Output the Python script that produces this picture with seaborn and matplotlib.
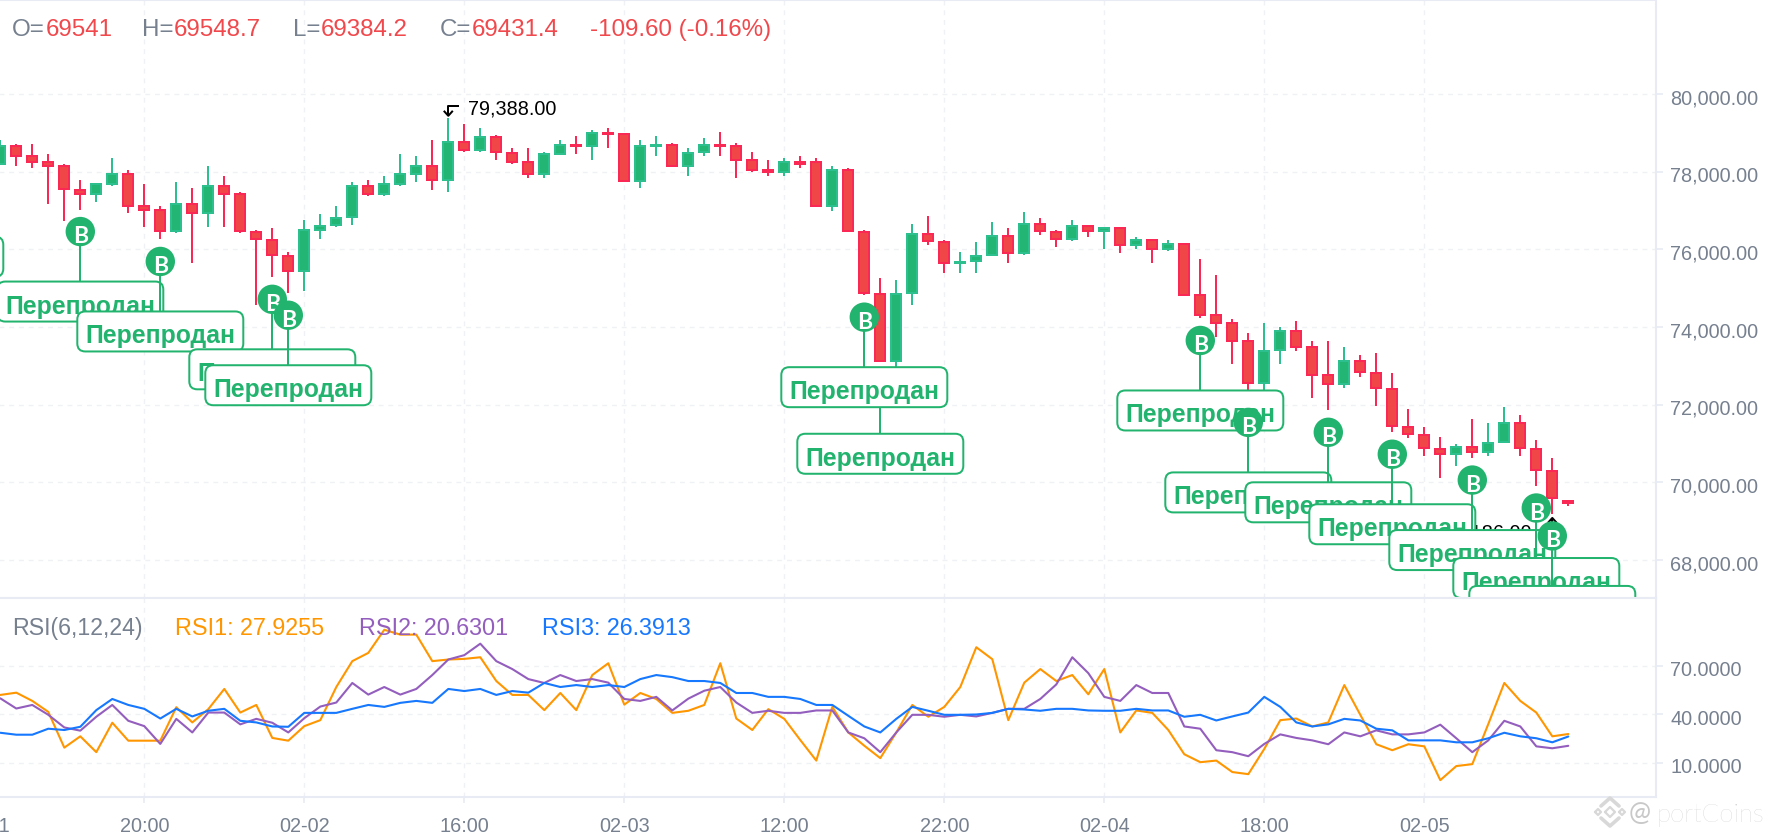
import numpy as np
import pandas as pd
import matplotlib
matplotlib.use('Agg')
import matplotlib.pyplot as plt
import seaborn as sns
from matplotlib.lines import Line2D
from matplotlib.patches import Circle, FancyBboxPatch
from matplotlib.transforms import IdentityTransform, ScaledTranslation

# ── data ──────────────────────────────────────────────────────────────────────
opens = [78180, 78675, 78420, 78265, 78160, 77545, 77410, 77660, 77955, 77135,
         77035, 76435, 77190, 76900, 77650, 77445, 76470, 76265, 75855, 75410,
         76485, 76590, 76795, 77650, 77410, 77660, 77925, 78160, 77770, 78780,
         78540, 78930, 78520, 78265, 77925, 78435, 78725, 78640, 79035, 78985,
         77725, 78640, 78725, 78130, 78485, 78725, 78675, 78315, 78060, 77975,
         78265, 78265, 77100, 78060, 76470, 74880, 73105, 74845, 76420, 76215,
         75615, 75665, 75820, 76370, 75870, 76675, 76470, 76230, 76625, 76435,
         76570, 76075, 76265, 75975, 76170, 74840, 74325, 74120, 73660, 72545,
         73370, 73915, 73505, 72785, 72495, 73145, 72840, 72425, 71455, 71250,
         70890, 70700, 70940, 70750, 71010, 71555, 70890, 70325, 69541]
closes = [78675, 78385, 78230, 78130, 77520, 77410, 77700, 77955, 77100, 77000,
          76445, 77190, 76900, 77650, 77410, 76435, 76230, 75820, 75410, 76520,
          76625, 76830, 77650, 77410, 77700, 77955, 78160, 77770, 78780, 78540,
          78930, 78485, 78230, 77925, 78470, 78725, 78640, 79035, 78950, 77725,
          78675, 78725, 78130, 78520, 78725, 78640, 78280, 78025, 77975, 78265,
          78180, 77100, 78060, 76435, 74845, 73105, 74880, 76420, 76180, 75615,
          75700, 75855, 76370, 75870, 76675, 76435, 76230, 76625, 76435, 76570,
          76075, 76265, 75975, 76160, 74805, 74290, 74085, 73625, 72545, 73400,
          73915, 73470, 72750, 72495, 73145, 72805, 72395, 71420, 71215, 70855,
          70700, 70940, 70750, 71045, 71555, 70855, 70290, 69575, 69431.4]
highs = [78810, 78710, 78710, 78455, 78190, 77785, 77700, 78340, 78035, 77685,
         77110, 77735, 77580, 78145, 77890, 77480, 76495, 76555, 75930, 76755,
         76905, 77110, 77725, 77785, 77890, 78455, 78400, 78810, 79388, 79220,
         79120, 78950, 78605, 78605, 78505, 78810, 78915, 79070, 79120, 78985,
         78810, 78915, 78750, 78600, 78865, 79015, 78750, 78505, 78300, 78350,
         78400, 78350, 78145, 78085, 76495, 75275, 75220, 76660, 76865, 76240,
         75940, 76195, 76710, 76555, 76965, 76810, 76505, 76760, 76625, 76570,
         76570, 76310, 76265, 76245, 76170, 75745, 75335, 74205, 73840, 74105,
         73990, 74155, 73640, 73640, 73490, 73280, 73335, 72820, 71895, 71435,
         71180, 70975, 71640, 71540, 71950, 71745, 71080, 70615, 69548.7]
lows = [78180, 78155, 78100, 77180, 76720, 77025, 77230, 77640, 76925, 76565,
        76255, 76410, 75640, 76565, 76565, 76410, 74565, 75280, 74870, 74925,
        76255, 76565, 76615, 77385, 77385, 77640, 77745, 77540, 77490, 78515,
        78515, 78310, 78205, 77845, 77845, 78425, 78460, 78310, 78615, 77725,
        77590, 78410, 78130, 77895, 78410, 78410, 77845, 78000, 77895, 77895,
        78100, 77100, 76975, 76435, 74820, 73105, 72975, 74565, 76100, 75385,
        75385, 75385, 75820, 75640, 75845, 76360, 76050, 76205, 76310, 76000,
        75900, 76000, 75640, 75950, 74805, 74220, 73750, 73035, 72110, 72365,
        73035, 73395, 72160, 71855, 72420, 72725, 71955, 71290, 71135, 70675,
        70110, 70420, 70625, 70675, 71010, 70675, 69905, 69186, 69384.2]

rsi1 = [52.1, 53.5, 48.4, 41.6, 19.5, 26.5, 16.7, 34.9, 23.8, 23.8, 23.8, 44.5,
        35.1, 43.3, 55.8, 41.2, 45.9, 25.5, 23.8, 32.8, 36.5, 57.0, 73.0, 78.1,
        92.4, 89.4, 89.4, 73.0, 74.0, 74.4, 75.4, 60.7, 52.1, 52.1, 42.7, 53.3,
        42.7, 64.4, 71.7, 46.1, 53.3, 49.6, 41.0, 42.3, 45.9, 71.7, 37.5, 30.4,
        43.3, 37.3, 24.2, 11.5, 44.7, 28.9, 20.7, 13.0, 28.9, 45.9, 38.6, 44.7,
        57.0, 81.6, 74.2, 36.5, 59.7, 68.1, 60.7, 64.4, 52.5, 68.1, 28.9, 42.5,
        41.0, 30.4, 15.4, 10.5, 11.5, 4.4, 3.1, 18.7, 36.5, 37.5, 32.6, 35.1,
        58.2, 39.8, 21.6, 17.9, 21.6, 20.3, -0.6, 8.1, 9.3, 34.1, 59.5, 48.4,
        41.2, 26.5, 27.9255]
rsi2 = [50.0, 43.7, 45.9, 39.8, 32.0, 30.0, 38.6, 45.9, 36.1, 32.8, 21.8, 37.3,
        28.9, 41.2, 41.2, 33.9, 37.3, 34.9, 28.9, 37.7, 44.9, 47.4, 59.5, 52.3,
        57.0, 52.3, 55.8, 64.4, 74.0, 76.7, 83.8, 73.0, 68.1, 61.9, 59.5, 64.4,
        60.7, 61.9, 59.7, 49.6, 48.4, 50.9, 42.5, 49.8, 54.7, 57.0, 47.4, 41.0,
        42.3, 41.0, 41.0, 42.5, 42.5, 28.9, 25.3, 16.7, 28.9, 39.8, 39.8, 38.6,
        39.8, 38.8, 41.0, 43.5, 43.5, 49.6, 58.6, 75.4, 65.6, 50.9, 48.4, 58.2,
        53.3, 53.3, 32.6, 31.2, 17.9, 16.7, 14.2, 21.8, 27.7, 25.5, 24.0, 21.6,
        28.9, 26.5, 30.2, 27.7, 27.7, 28.9, 33.7, 25.3, 16.7, 24.0, 36.1, 32.6,
        20.3, 19.1, 20.6301]
rsi3 = [28.7, 27.5, 27.5, 31.2, 30.4, 32.4, 42.7, 49.6, 45.9, 43.5, 37.5, 43.5,
        38.8, 42.3, 43.5, 36.1, 35.1, 32.6, 32.4, 41.0, 41.0, 41.0, 43.5, 45.9,
        44.7, 47.2, 48.4, 47.2, 55.8, 54.5, 55.8, 52.1, 54.5, 53.5, 59.5, 57.0,
        58.2, 57.0, 58.2, 57.0, 61.9, 64.4, 63.1, 60.7, 60.7, 59.5, 53.3, 53.3,
        50.9, 50.9, 49.6, 45.9, 45.9, 39.2, 32.6, 28.9, 37.3, 44.7, 42.3, 39.8,
        39.8, 40.0, 41.0, 43.5, 43.1, 42.3, 43.5, 43.5, 42.5, 42.3, 42.3, 43.5,
        42.5, 42.5, 38.6, 39.8, 36.3, 38.8, 41.2, 50.9, 44.7, 35.1, 32.6, 33.9,
        37.3, 36.3, 31.2, 30.2, 24.0, 24.0, 24.0, 22.8, 22.8, 25.3, 28.7, 26.5,
        25.3, 22.8, 26.3913]

# candles with a "Перепродан" signal, in drawing order (the first starts off screen)
signal_idx = [-5, 5, 10, 17, 18, 55, 54, 75, 78, 83, 87, 92, 96, 97]
signal_low = [78180, 77025, 76255, 75280, 74870, 73105, 74820, 74220, 72110,
              71855, 71290, 70625, 69905, 69186]

tick_pos = [-1, 9, 19, 29, 39, 49, 59, 69, 79, 89]
tick_txt = ['02-01', '20:00', '02-02', '16:00', '02-03', '12:00', '22:00', '02-04', '18:00', '02-05']
price_ticks = [68000, 70000, 72000, 74000, 76000, 78000, 80000]
rsi_ticks = [10, 40, 70]

df = pd.DataFrame({'idx': np.arange(len(opens)), 'open': opens, 'close': closes,
                   'high': highs, 'low': lows, 'rsi1': rsi1, 'rsi2': rsi2, 'rsi3': rsi3})

# ── style ─────────────────────────────────────────────────────────────────────
sns.set_theme(style='white')
plt.rcParams['font.family'] = ['Liberation Sans', 'DejaVu Sans']

UP, UP_FILL = '#2DC08E', '#22B573'
DOWN, DOWN_FILL = '#F92855', '#F04648'
SIGNAL = '#22B46E'
GREY = '#76808F'
LINE = '#E8EBF3'
GRID = '#EFF1F4'

W, H = 1774, 838
fig = plt.figure(figsize=(W / 100, H / 100), dpi=100, facecolor='white')

# panes run a little off the left edge so the cut-off 02-01 label still draws
X0, X1 = -18, 1656.5
main_top, main_bot = 0, 598
sub_bot = 797
ax = fig.add_axes([X0 / W, 1 - main_bot / H, (X1 - X0) / W, (main_bot - main_top) / H])
ax2 = fig.add_axes([X0 / W, 1 - sub_bot / H, (X1 - X0) / W, (sub_bot - main_bot) / H], sharex=ax)

ax.set_xlim((X0 - 0.3) / 16, (X1 - 0.3) / 16)
ax.set_ylim(67021, 82422)
ax2.set_ylim(-11.03, 112.05)

for a in (ax, ax2):
    a.set_axisbelow(True)
    a.grid(True, color=GRID, linewidth=1.0, linestyle=(0, (3.5, 3.5)))
    a.set_xticks(tick_pos)
    for side in ('left', 'top', 'bottom', 'right'):
        a.spines[side].set_color(LINE)
        a.spines[side].set_linewidth(1.5)
    a.spines['left'].set_visible(False)
    a.yaxis.tick_right()
    a.tick_params(axis='y', right=True, left=False, length=5, width=1.2, color=LINE,
                  labelsize=14.3, labelcolor=GREY, pad=5)

ax.set_yticks(price_ticks)
ax.set_yticklabels([f'{t:,.2f}' for t in price_ticks])
ax.tick_params(axis='x', bottom=False, labelbottom=False)
ax2.set_yticks(rsi_ticks)
ax2.set_yticklabels([f'{t:.4f}' for t in rsi_ticks])
ax2.set_xticklabels(tick_txt)
ax2.tick_params(axis='x', bottom=True, length=4.5, width=1.2, color=LINE,
                labelsize=14.3, labelcolor=GREY, pad=9.7)

down_shift = ScaledTranslation(0, -2 / 72, fig.dpi_scale_trans)
for lab in ax.get_yticklabels() + ax2.get_yticklabels():
    lab.set_transform(lab.get_transform() + down_shift)

# ── candles ───────────────────────────────────────────────────────────────────
is_up = df['close'] >= df['open']
wick_col = [UP if u else DOWN for u in is_up]
fill_col = [UP_FILL if u else DOWN_FILL for u in is_up]
ax.vlines(df['idx'], df['low'], df['high'], colors=wick_col, linewidth=1.44, zorder=2)

# body outline is 2px, keep the outer edge on the open/close values
price_per_px = (ax.get_ylim()[1] - ax.get_ylim()[0]) / (main_bot - main_top)
body_lo = df[['open', 'close']].min(axis=1) + price_per_px
body_hi = df[['open', 'close']].max(axis=1) - price_per_px
ax.bar(df['idx'], body_hi - body_lo, bottom=body_lo, width=10 / 16, color=fill_col,
       edgecolor=wick_col, linewidth=1.44, zorder=3)


def to_px(i, price):
    return ax.transData.transform((i, price))


def px_line(xs, ys, color='black', lw=1.44, z=5):
    ax.add_line(Line2D(xs, ys, color=color, linewidth=lw, transform=IdentityTransform(),
                       zorder=z, solid_capstyle='butt'))


# high / low markers
hi_i = int(df['high'].idxmax())
lo_i = int(df['low'].idxmin())
hx, hy = to_px(hi_i, df['high'][hi_i])
px_line([hx + 11, hx, hx], [hy + 12, hy + 12, hy + 2])
px_line([hx - 4.5, hx, hx + 4.5], [hy + 7, hy + 2, hy + 7])
ax.text(hx + 20, hy + 9, f"{df['high'][hi_i]:,.2f}", transform=IdentityTransform(),
        color='black', fontsize=14.3, ha='left', va='center', zorder=5)
lx, ly = to_px(lo_i, df['low'][lo_i])
px_line([lx - 11, lx, lx], [ly - 14, ly - 14, ly - 4])
px_line([lx - 4.5, lx, lx + 4.5], [ly - 9, ly - 4, ly - 9])
ax.text(lx - 21, ly - 19, f"{df['low'][lo_i]:,.2f}", transform=IdentityTransform(),
        color='black', fontsize=14.3, ha='right', va='center', zorder=5)

# ── buy signals ───────────────────────────────────────────────────────────────
z = 10
for i, low in zip(signal_idx, signal_low):
    sx, sy = to_px(i, low)
    px_line([sx, sx], [sy - 22, sy - 72], color=SIGNAL, z=z)
    ax.add_patch(Circle((sx, sy - 22), 14.7, facecolor=SIGNAL, edgecolor='none',
                        transform=IdentityTransform(), zorder=z + 0.1))
    ax.text(sx, sy - 27, 'B', color='white', fontsize=16.5, fontweight='bold',
            family=['Liberation Sans Narrow', 'Lato'],
            transform=IdentityTransform(), ha='center', va='center', zorder=z + 0.2, clip_on=True)
    ax.add_patch(FancyBboxPatch((sx - 83, sy - 112), 166, 40,
                                boxstyle='round,pad=0,rounding_size=8', facecolor='white',
                                edgecolor=SIGNAL, linewidth=1.44,
                                transform=IdentityTransform(), zorder=z + 0.3))
    ax.text(sx, sy - 97, 'Перепродан', color=SIGNAL, fontsize=17.8, fontweight='bold',
            transform=IdentityTransform(), ha='center', va='center', zorder=z + 0.4, clip_on=True)
    z += 1

# ── RSI ───────────────────────────────────────────────────────────────────────
sns.lineplot(data=df, x='idx', y='rsi1', ax=ax2, color='#FF9600', linewidth=1.5, zorder=3)
sns.lineplot(data=df, x='idx', y='rsi2', ax=ax2, color='#935EBD', linewidth=1.5, zorder=4)
sns.lineplot(data=df, x='idx', y='rsi3', ax=ax2, color='#1677FF', linewidth=1.5, zorder=5)
ax2.set_xlabel('')
ax2.set_ylabel('')
ax2.set_xlim(ax.get_xlim())


# ── header texts ──────────────────────────────────────────────────────────────
def head(x, y, s, color, size=17.4):
    fig.text(x / W, 1 - y / H, s, color=color, fontsize=size, ha='left', va='center', zorder=20)


RED_TXT = '#F0484C'
for x, name, val in [(12, 'O=', '69541'), (142, 'H=', '69548.7'), (293, 'L=', '69384.2'), (440, 'C=', '69431.4')]:
    t = fig.text(x / W, 1 - 30 / H, name, color=GREY, fontsize=17.4, ha='left', va='center')
    bb = t.get_window_extent(fig.canvas.get_renderer())
    head(bb.x1 + 0.5, 30, val, RED_TXT)
head(590, 30, '-109.60 (-0.16%)', RED_TXT)

head(12, 628, 'RSI(6,12,24)', GREY, 16.7)
head(175, 628, 'RSI1: 27.9255', '#FF9600', 16.8)
head(359, 628, 'RSI2: 20.6301', '#935EBD', 16.8)
head(542.5, 628, 'RSI3: 26.3913', '#1677FF', 16.8)

# ── watermark ─────────────────────────────────────────────────────────────────
MARK = '#D8D8D8'


def mark_line(xs, ys, lw=2.6):
    fig.add_artist(Line2D(xs, [H - v for v in ys], color=MARK, linewidth=lw,
                          transform=IdentityTransform()))


mark_line([1601, 1610, 1619], [806, 798, 806])
mark_line([1601, 1610, 1619], [818, 826, 818])
mark_line([1595, 1598, 1601, 1598, 1595], [812, 809, 812, 815, 812], lw=1.6)
mark_line([1619, 1622, 1625, 1622, 1619], [812, 809, 812, 815, 812], lw=1.6)
mark_line([1605, 1610, 1615, 1610, 1605], [812, 807, 812, 817, 812], lw=1.6)
fig.text(1629 / W, 1 - 813 / H, '@', color='#C8C8C8', fontsize=19, family='Lato', ha='left', va='center')
fig.text(1657 / W, 1 - 815 / H, 'portCoins', color='#C8C8C8', fontsize=18.5, family='Lato',
         fontweight='light', ha='left', va='center')

fig.savefig('out.png', dpi=100)
plt.close(fig)
